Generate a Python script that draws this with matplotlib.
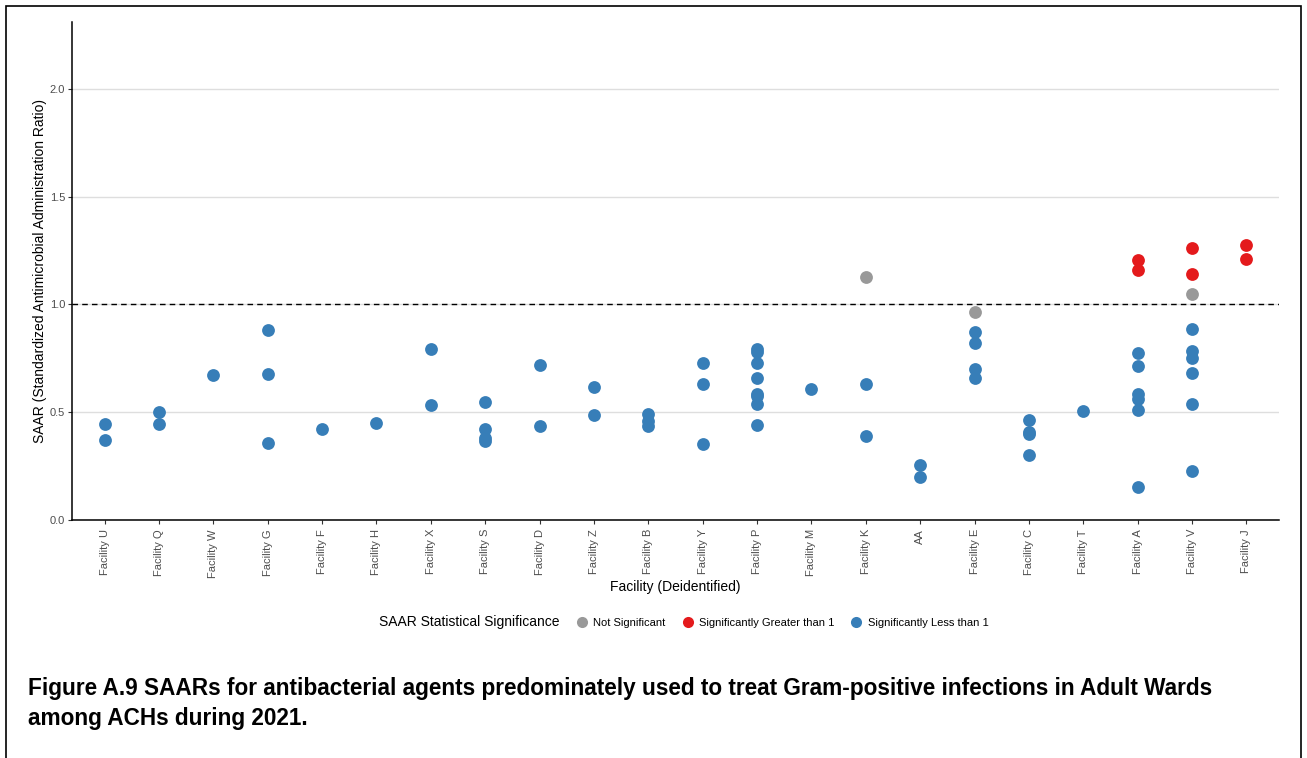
import matplotlib
matplotlib.use("Agg")
import matplotlib.pyplot as plt
from matplotlib.lines import Line2D
from matplotlib.patches import Rectangle

plt.rcParams["font.family"] = ["Liberation Sans", "DejaVu Sans"]

facilities = ["Facility U", "Facility Q", "Facility W", "Facility G", "Facility F",
              "Facility H", "Facility X", "Facility S", "Facility D", "Facility Z",
              "Facility B", "Facility Y", "Facility P", "Facility M", "Facility K",
              "AA", "Facility E", "Facility C", "Facility T", "Facility A",
              "Facility V", "Facility J"]

# (facility, SAAR) per significance group
less_fac = (["Facility U"] * 2 + ["Facility Q"] * 2 + ["Facility W"] + ["Facility G"] * 3
            + ["Facility F"] + ["Facility H"] + ["Facility X"] * 2 + ["Facility S"] * 4
            + ["Facility D"] * 2 + ["Facility Z"] * 2 + ["Facility B"] * 3 + ["Facility Y"] * 3
            + ["Facility P"] * 8 + ["Facility M"] + ["Facility K"] * 2 + ["AA"] * 2
            + ["Facility E"] * 4 + ["Facility C"] * 4 + ["Facility T"] + ["Facility A"] * 6
            + ["Facility V"] * 6)
less_val = [0.444, 0.370,
            0.501, 0.445,
            0.671,
            0.883, 0.679, 0.356,
            0.422,
            0.450,
            0.795, 0.532,
            0.549, 0.422, 0.379, 0.365,
            0.721, 0.435,
            0.619, 0.487,
            0.490, 0.459, 0.436,
            0.727, 0.631, 0.353,
            0.794, 0.778, 0.729, 0.657, 0.586, 0.575, 0.537, 0.441,
            0.609,
            0.631, 0.388,
            0.257, 0.201,
            0.872, 0.821, 0.701, 0.657,
            0.463, 0.407, 0.398, 0.302,
            0.506,
            0.773, 0.715, 0.585, 0.560, 0.512, 0.155,
            0.886, 0.783, 0.752, 0.681, 0.540, 0.227]

greater_fac = ["Facility A", "Facility A", "Facility V", "Facility V", "Facility J", "Facility J"]
greater_val = [1.205, 1.159, 1.261, 1.143, 1.275, 1.211]

notsig_fac = ["Facility K", "Facility E", "Facility V"]
notsig_val = [1.128, 0.965, 1.046]

col_ns = "#999999"
col_gt = "#E41A1C"
col_lt = "#377EB8"

pos = {f: i for i, f in enumerate(facilities)}

fig = plt.figure(figsize=(13.07, 7.58), dpi=100)
ax = fig.add_axes([72 / 1307, 1 - 520 / 758, (1279 - 72) / 1307, (520 - 22) / 758])

ax.scatter([pos[f] for f in less_fac], less_val, s=85, color=col_lt, zorder=3, linewidths=0)
ax.scatter([pos[f] for f in greater_fac], greater_val, s=85, color=col_gt, zorder=3, linewidths=0)
ax.scatter([pos[f] for f in notsig_fac], notsig_val, s=85, color=col_ns, zorder=3, linewidths=0)

ax.axhline(1.0, color="black", linestyle=(0, (4, 3)), linewidth=1, zorder=2)

ax.set_xlim(-0.6, len(facilities) - 0.4)
ax.set_ylim(0, 2.31)
ax.set_yticks([0.0, 0.5, 1.0, 1.5, 2.0])
ax.set_yticklabels(["0.0", "0.5", "1.0", "1.5", "2.0"])
ax.set_xticks(range(len(facilities)))
ax.set_xticklabels(facilities, rotation=90)
ax.tick_params(axis="both", labelsize=8, labelcolor="#4D4D4D", color="#333333", length=3, width=0.8)
ax.tick_params(axis="y", pad=2)
ax.yaxis.grid(True, color="#DEDEDE", linewidth=1, zorder=0)
ax.set_axisbelow(True)
for s in ["top", "right"]:
    ax.spines[s].set_visible(False)
for s in ["left", "bottom"]:
    ax.spines[s].set_linewidth(1.1)
    ax.spines[s].set_color("black")

ax.set_xlabel("Facility (Deidentified)", fontsize=10, labelpad=2)
ax.set_ylabel("SAAR (Standardized Antimicrobial Administration Ratio)", fontsize=10, labelpad=2)

handles = [Line2D([], [], linestyle="", marker="")]
handles += [Line2D([], [], marker="o", linestyle="", markersize=8, color=c, markeredgewidth=0)
            for c in [col_ns, col_gt, col_lt]]
leg = fig.legend(handles, ["SAAR Statistical Significance", "Not Significant",
                           "Significantly Greater than 1", "Significantly Less than 1"],
                 loc="center", bbox_to_anchor=(675 / 1307, 1 - 622 / 758), ncol=4, frameon=False,
                 fontsize=8, handletextpad=0.4, columnspacing=1.4, handlelength=1.2)
leg.get_texts()[0].set_fontsize(10)

fig.text(28 / 1307, 1 - 688 / 758, "Figure A.9 SAARs for antibacterial agents predominately used to treat "
         "Gram-positive infections in Adult Wards", fontsize=16.3, fontweight="bold", va="center")
fig.text(28 / 1307, 1 - 718 / 758, "among ACHs during 2021.", fontsize=16.3, fontweight="bold",
         va="center")

fig.patches.append(Rectangle((6 / 1307, -0.1), (1301 - 6) / 1307, 1.1 - 6 / 758,
                             transform=fig.transFigure, fill=False, edgecolor="black",
                             linewidth=1.2))

fig.savefig("out.png", dpi=100)
